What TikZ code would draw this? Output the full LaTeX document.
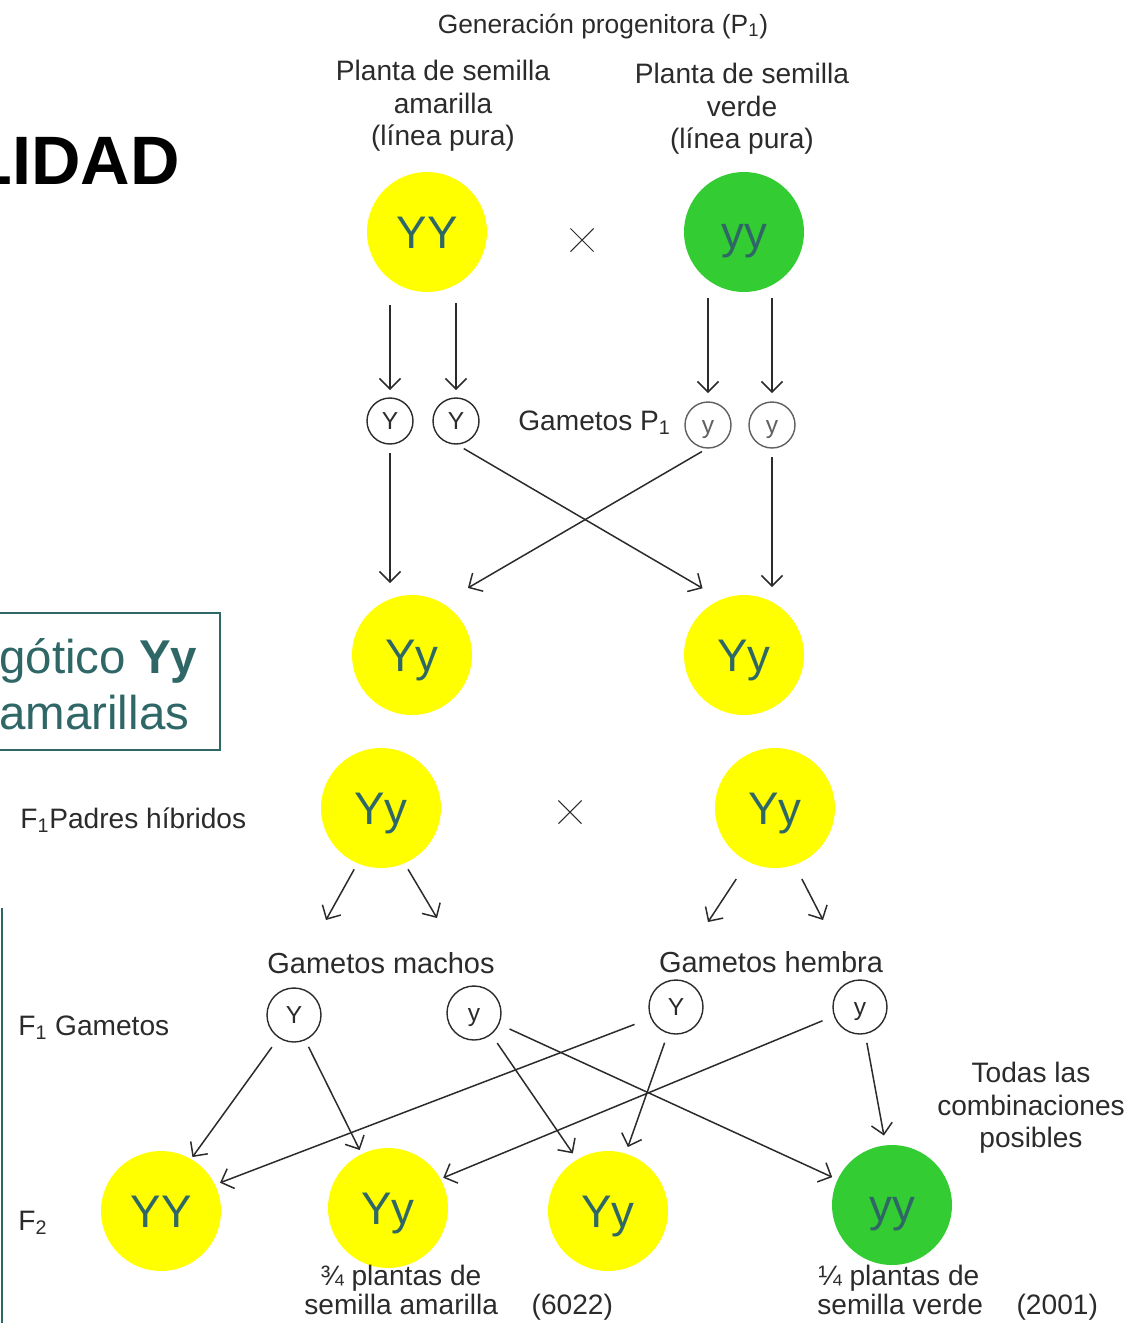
\documentclass[tikz,border=0pt]{standalone}
\usepackage{fontspec}
\setmainfont{Liberation Sans}
\usetikzlibrary{arrows.meta,shapes.misc}
\definecolor{ink}{HTML}{2B2B2B}
\definecolor{slideteal}{HTML}{2F6767}
\definecolor{seedyellow}{HTML}{FFFF00}
\definecolor{seedgreen}{HTML}{33CC33}
\begin{document}
\begin{tikzpicture}[x=0.02cm,y=-0.02cm,
  big/.style={circle, minimum size=2.4cm, inner sep=0pt, outer sep=0pt,
    text=slideteal, font=\fontsize{26}{26}\selectfont,
    text height=18.6pt, text depth=0pt},
  yel/.style={big, fill=seedyellow},
  grn/.style={big, fill=seedgreen},
  gam/.style={circle, draw=ink, line width=0.8pt, minimum size=0.92cm,
    inner sep=0pt, outer sep=0pt, text=ink, font=\fontsize{14}{14}\selectfont,
    text height=10pt, text depth=0pt},
  gamF/.style={gam, minimum size=1.08cm},
  lbl/.style={text=ink, inner sep=0pt, font=\fontsize{16}{18.4}\selectfont},
  arr/.style={draw=ink, line width=0.85pt, -{Straight Barb[length=6pt,width=12pt]}},
  cross/.style={cross out, draw=ink, line width=0.6pt, minimum size=0.44cm, inner sep=0pt},
]
\useasboundingbox (0,0) rectangle (1134,1323);
\clip (0,0) rectangle (1134,1323);

% slide fragments on the left
\node[anchor=base east, inner sep=0pt, text=black,
  font=\bfseries\fontsize{39}{40}\selectfont] (heading) at (180,184) {LIDAD};
\draw[slideteal, line width=1.3pt] (-10,613) rectangle (220,750);
\node[anchor=base west, inner sep=0pt, text=slideteal,
  font=\fontsize{27}{27}\selectfont] (hetA) at (-1,673) {gótico \textbf{Yy}};
\node[anchor=base west, inner sep=0pt, text=slideteal,
  font=\fontsize{27}{27}\selectfont] (hetB) at (-1,729) {amarillas};
\draw[slideteal, line width=1.5pt] (2,908) -- (2,1330);

% parental generation
\node[lbl, anchor=base, font=\fontsize{15}{17}\selectfont] (title) at (603,33)
  {Generación progenitora (P\textsubscript{1})};
\node[lbl, anchor=north, align=center] (lblY) at (443,60)
  {Planta de semilla\\amarilla\\(línea pura)};
\node[lbl, anchor=north, align=center] (lblG) at (742,63)
  {Planta de semilla\\verde\\(línea pura)};
\node[yel] (YY) at (427,232) {YY};
\node[grn] (yy) at (744,232) {yy};
\node[cross] (x1) at (582,240) {};

% P1 gametes
\node[gam] (gA1) at (390,421) {Y};
\node[gam] (gA2) at (456,421) {Y};
\node[gam, draw=ink!75, text=ink!75] (gB1) at (708,425) {y};
\node[gam, draw=ink!75, text=ink!75] (gB2) at (772,425) {y};
\node[lbl, anchor=base west] (lblP) at (518,430) {Gametos P\textsubscript{1}};

\draw[arr, shorten <=0.26cm, shorten >=0.16cm] (gA1 |- YY.south) -- (gA1.north);
\draw[arr, shorten <=0.22cm, shorten >=0.16cm] (gA2 |- YY.south) -- (gA2.north);
\draw[arr, shorten <=0.12cm, shorten >=0.18cm] (gB1 |- yy.south) -- (gB1.north);
\draw[arr, shorten <=0.12cm, shorten >=0.18cm] (gB2 |- yy.south) -- (gB2.north);

% F1 hybrids
\node[yel] (F1a) at (412,655) {Yy};
\node[yel] (F1b) at (744,655) {Yy};
\draw[arr, shorten <=0.18cm, shorten >=0.24cm] (gA1.south) -- (gA1 |- F1a.north);
\draw[arr, shorten <=0.18cm, shorten >=0.44cm] (gA2.south) -- (F1b.112);
\draw[arr, shorten <=0.14cm, shorten >=0.60cm] (gB1.south) -- (F1a.60);
\draw[arr, shorten <=0.18cm, shorten >=0.16cm] (gB2.south) -- (gB2 |- F1b.north);

% F1 parents
\node[lbl, anchor=base west] (lblF1) at (20,828) {F\textsubscript{1}Padres híbridos};
\node[yel] (PL) at (381,808) {Yy};
\node[yel] (PR) at (775,808) {Yy};
\node[cross] (x2) at (570,812) {};
\coordinate (mL1) at (326,920);
\coordinate (mL2) at (437,918);
\coordinate (fR1) at (708,922);
\coordinate (fR2) at (823,920);
\draw[arr, shorten <=0.14cm] (PL.247) -- (mL1);
\draw[arr, shorten <=0.14cm] (PL.293) -- (mL2);
\draw[arr, shorten <=0.42cm] (PR.243) -- (fR1);
\draw[arr, shorten <=0.32cm] (PR.289) -- (fR2);

% F1 gametes
\node[lbl, anchor=base, font=\fontsize{16.5}{18.4}\selectfont] (lblM) at (381,973) {Gametos machos};
\node[lbl, anchor=base, font=\fontsize{16.5}{18.4}\selectfont] (lblH) at (771,972) {Gametos hembra};
\node[lbl, anchor=base west] (lblG1) at (18,1035) {F\textsubscript{1} Gametos};
\node[gamF] (mY) at (294,1015) {Y};
\node[gamF] (my) at (474,1013) {y};
\node[gamF] (fY) at (676,1007) {Y};
\node[gamF] (fy) at (860,1007) {y};

% F2 generation
\node[lbl, anchor=base west] (lblF2) at (18,1230) {F\textsubscript{2}};
\node[yel] (c1) at (161,1211) {YY};
\node[yel] (c2) at (388,1208) {Yy};
\node[yel] (c3) at (608,1211) {Yy};
\node[grn] (c4) at (892,1205) {yy};

\draw[arr, shorten <=0.24cm, shorten >=0.05cm] (mY.236) -- (c1.60);
\draw[arr, shorten <=0.16cm, shorten >=0.09cm] (mY.294) -- (c2.116);
\draw[arr, shorten <=0.22cm, shorten >=0.15cm] (my.309) -- (c3.121);
\draw[arr, shorten <=0.24cm, shorten >=0.12cm] (my.336) -- (c4.155);
\draw[arr, shorten <=0.36cm, shorten >=0.11cm] (fY.204) -- (c1.26);
\draw[arr, shorten <=0.21cm, shorten >=0.14cm] (fY.253) -- (c3.73);
\draw[arr, shorten <=0.26cm, shorten >=0.06cm] (fy.199) -- (c2.29);
\draw[arr, shorten <=0.19cm, shorten >=0.20cm] (fy.281) -- (c4.96);

\node[lbl, anchor=north, align=center] (lblAll) at (1031,1062)
  {Todas las\\combinaciones\\posibles};
\node[lbl, anchor=base west] (lblY1) at (320,1285) {¾ plantas de};
\node[lbl, anchor=base west] (lblY2) at (304,1314) {semilla amarilla\hspace{1.2em}(6022)};
\node[lbl, anchor=base west] (lblG2a) at (818,1285) {¼ plantas de};
\node[lbl, anchor=base west] (lblG2b) at (817,1314) {semilla verde\hspace{1.2em}(2001)};
\end{tikzpicture}
\end{document}
